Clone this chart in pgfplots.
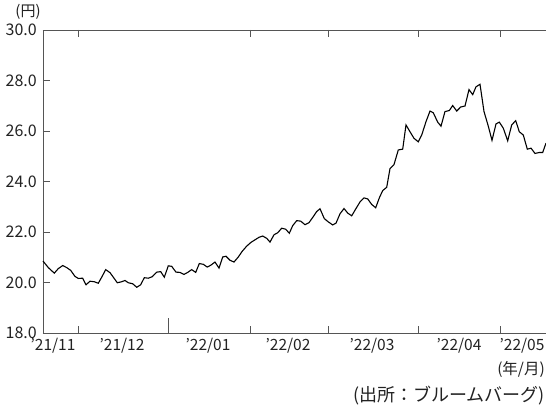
\documentclass[border=0pt]{standalone}
\usepackage{fontspec}
\setmainfont{Noto Sans CJK JP}
\usepackage{pgfplots}
\pgfplotsset{compat=1.18}
\definecolor{axgray}{HTML}{555555}
\definecolor{txtgray}{HTML}{222222}
\begin{document}
\fontsize{15pt}{18pt}\selectfont
\begin{tikzpicture}
\path[use as bounding box] (0,0) rectangle (546pt,406pt);
\begin{axis}[
  at={(43pt,73pt)}, anchor=south west,
  scale only axis, width=503pt, height=303pt,
  xmin=0, xmax=503, ymin=18, ymax=30,
  axis y line*=left, axis x line*=box,
  axis line style={axgray, line width=0.9pt, -},
  tick align=inside,
  ytick={18,20,22,24,26,28,30},
  yticklabel style={/pgf/number format/fixed, /pgf/number format/fixed zerofill, /pgf/number format/precision=1, font=\fontsize{16pt}{18pt}\selectfont, text=txtgray, xshift=-1pt},
  /pgf/number format/assume math mode=true,
  tick style={axgray, line width=0.8pt},
  major tick length=7pt,
  xtick={35,207,285,375,457},
  xticklabels={},
  extra x ticks={10,79,165,245,329,416,479},
  extra x tick labels={'21/11,'21/12,'22/01,'22/02,'22/03,'22/04,'22/05},
  extra x tick style={major tick length=0pt, xticklabel style={font=\fontsize{15.5pt}{18pt}\selectfont, text=txtgray}},
  clip=false,
]
\addplot[black, line width=1.1pt] coordinates {
(0,20.85) (5.3,20.59) (11.3,20.37) (15.3,20.55) (19.7,20.67) (23.7,20.59)
(27.7,20.48) (32,20.24) (35.3,20.16) (39.7,20.17) (43,19.91) (47,20.05)
(51.3,20.03) (55.3,19.97) (58.7,20.21) (62.7,20.51) (67,20.39) (70.3,20.21)
(74.3,19.99) (78.7,20.03) (82,20.08) (85.3,19.99) (89.7,19.95) (93.7,19.81)
(97.7,19.91) (101.3,20.19) (105.3,20.17) (109.3,20.23) (113.7,20.41) (117.7,20.43)
(121.3,20.21) (125.3,20.66) (128.7,20.64) (133,20.41) (137,20.40) (141,20.32)
(144.7,20.40) (148.7,20.51) (152.7,20.40) (156.3,20.75) (160.3,20.72) (164.3,20.61)
(168,20.69) (172,20.81) (176,20.57) (179.7,21.01) (183,21.04) (187,20.88)
(191,20.81) (195.3,21.01) (199.3,21.24) (203.7,21.44) (208,21.59) (212,21.69)
(216,21.79) (219.7,21.84) (223.7,21.75) (227,21.60) (231,21.89) (234.7,21.97)
(238.7,22.15) (242.7,22.11) (246.3,21.95) (249.7,22.25) (253.7,22.45) (257.7,22.43)
(262,22.29) (266,22.37) (270.3,22.61) (273.7,22.81) (277,22.92) (281.3,22.53)
(285.3,22.40) (289.7,22.28) (293,22.35) (297,22.72) (301,22.93) (304.7,22.75)
(308.7,22.64) (312.7,22.91) (317,23.19) (321,23.35) (324.7,23.31) (328.7,23.09)
(332.7,22.96) (336.3,23.35) (339.7,23.64) (343.7,23.77) (347,24.51) (351,24.67)
(355.3,25.25) (359.7,25.28) (363,26.24) (367,25.97) (371,25.71) (375.3,25.57)
(378.7,25.84) (383,26.37) (387,26.79) (390.3,26.72) (394.7,26.35) (398,26.19)
(402,26.77) (406.3,26.81) (409.7,27.01) (413.7,26.79) (417.7,26.95) (422,26.99)
(426,27.64) (429.7,27.44) (433,27.75) (437,27.85) (441,26.77) (445.3,26.19)
(449,25.63) (453,26.28) (456.3,26.35) (460.3,26.11) (464.7,25.61) (468.7,26.24)
(472.7,26.41) (476.3,25.97) (480.3,25.84) (484.3,25.28) (488,25.32) (492,25.11)
(496.3,25.15) (499.7,25.15) (503,25.52)
};
\end{axis}
\draw[axgray, line width=0.8pt] (168pt,73pt) -- (168pt,88pt);
\node[text=txtgray, font=\fontsize{15pt}{18pt}\selectfont] at (28pt,394pt) {(円)};
\node[text=txtgray, anchor=east, font=\fontsize{15.5pt}{18pt}\selectfont, inner sep=0pt] at (545pt,37pt) {(年/月)};
\node[text=txtgray, anchor=east, font=\fontsize{18pt}{22pt}\selectfont, inner sep=0pt] at (545pt,10pt) {(出所：ブルームバーグ)};
\end{tikzpicture}
\end{document}
